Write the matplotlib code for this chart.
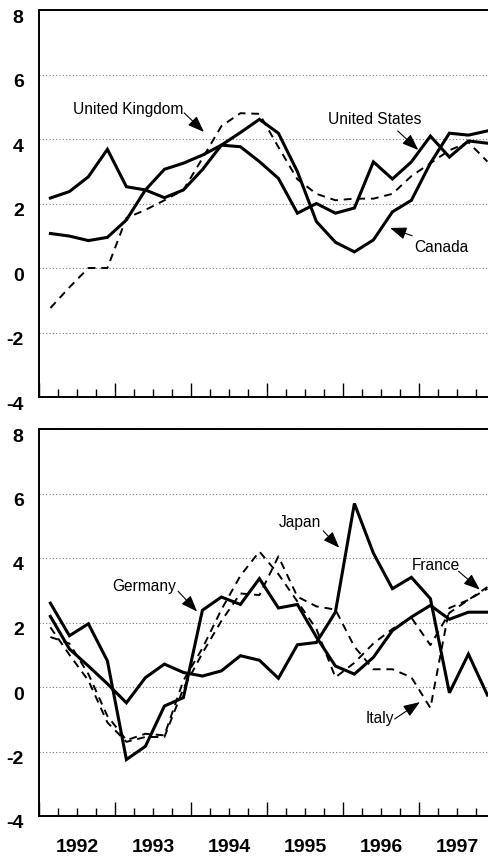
import numpy as np
import matplotlib.pyplot as plt
from matplotlib.ticker import MultipleLocator, NullFormatter
from matplotlib.transforms import ScaledTranslation

plt.rcParams['font.family'] = ['Liberation Sans', 'DejaVu Sans']
plt.rcParams['axes.unicode_minus'] = False

# real GDP growth, percent change from a year earlier, 1992Q1 - 1997Q4
quarter = np.arange(24)
t = 1992 + (quarter + 0.6) / 4
years = [1992, 1993, 1994, 1995, 1996, 1997]

united_states = [2.17, 2.37, 2.83, 3.68, 2.52, 2.42, 2.18, 2.42, 3.05, 3.81, 3.76, 3.3,
                 2.78, 1.7, 2.0, 1.7, 1.86, 3.29, 2.76, 3.29, 4.09, 3.44, 3.94, 3.87]
canada = [1.07, 0.99, 0.85, 0.95, 1.49, 2.42, 3.06, 3.25, 3.5, 3.81, 4.2, 4.61,
          4.18, 2.99, 1.44, 0.8, 0.5, 0.87, 1.74, 2.1, 3.25, 4.18, 4.12, 4.25]
united_kingdom = [-1.24, -0.6, 0.0, 0.0, 1.55, 1.8, 2.1, 2.42, 3.4, 4.4, 4.8, 4.78,
                  3.75, 2.75, 2.3, 2.1, 2.15, 2.15, 2.3, 2.85, 3.25, 3.65, 3.9, 3.3]

germany = [2.6, 1.59, 1.96, 0.81, -2.25, -1.84, -0.59, -0.33, 2.38, 2.79, 2.56, 3.36,
           2.45, 2.56, 1.55, 0.65, 0.4, 0.92, 1.75, 2.17, 2.53, 2.1, 2.32, 2.32]
japan = [2.19, 1.18, 0.65, 0.1, -0.49, 0.29, 0.71, 0.45, 0.34, 0.5, 0.97, 0.83,
         0.27, 1.31, 1.38, 2.32, 5.69, 4.15, 3.05, 3.4, 2.74, -0.18, 1.02, -0.25]
france = [1.55, 1.35, 0.4, -0.9, -1.65, -1.45, -1.5, 0.2, 1.2, 2.4, 3.45, 4.2,
          3.5, 2.65, 1.8, 0.3, 0.75, 1.35, 1.8, 2.15, 1.3, 2.3, 2.7, 3.1]
italy = [1.85, 1.0, 0.2, -1.1, -1.7, -1.55, -1.55, -0.05, 1.05, 2.05, 2.9, 2.85,
         4.05, 2.8, 2.5, 2.4, 1.25, 0.55, 0.55, 0.3, -0.65, 2.45, 2.7, 3.05]

fig = plt.figure(figsize=(4.88, 8.57), dpi=100)
ax1 = fig.add_axes([39 / 488, 1 - 397 / 857, 456 / 488, 387 / 857])
ax2 = fig.add_axes([39 / 488, 1 - 816 / 857, 456 / 488, 387 / 857])

label_shift = ScaledTranslation(0, -6 / 100, fig.dpi_scale_trans)


def style(ax):
    ax.set_xlim(1992, 1998)
    ax.set_ylim(-4, 8)
    ax.set_yticks(range(-4, 9, 2))
    ax.xaxis.set_major_locator(MultipleLocator(1))
    ax.xaxis.set_minor_locator(MultipleLocator(0.25))
    ax.xaxis.set_major_formatter(NullFormatter())
    ax.tick_params(axis='x', which='major', direction='in', length=10, width=1)
    ax.tick_params(axis='x', which='minor', direction='in', length=5.5, width=1)
    ax.tick_params(axis='y', length=0, pad=11)
    for lab in ax.get_yticklabels():
        lab.set_fontweight('bold')
        lab.set_fontsize(14)
        lab.set_transform(lab.get_transform() + label_shift)
    ax.spines['right'].set_visible(False)
    for side in ['left', 'top', 'bottom']:
        ax.spines[side].set_linewidth(1.4)
    ax.yaxis.grid(True, color='#777777', lw=0.8, ls=(0, (1, 2)))
    ax.set_axisbelow(True)


def label(ax, text, pos, tail, head):
    ax.text(pos[0], pos[1], text, ha='center', va='center', fontsize=11.2)
    ax.annotate('', xy=head, xytext=tail,
                arrowprops=dict(arrowstyle='-|>,head_length=1.0,head_width=0.38',
                                color='black', lw=0.8, shrinkA=0, shrinkB=0))


style(ax1)
style(ax2)

solid = dict(color='black', lw=2.2, solid_joinstyle='miter')
dashed = dict(color='black', lw=1.4, dashes=(4, 3))

ax1.plot(t, united_states, **solid)
ax1.plot(t, canada, **solid)
ax1.plot(t, united_kingdom, **dashed)

label(ax1, 'United Kingdom', (1993.18, 4.93), (1993.91, 4.81), (1994.17, 4.22))
label(ax1, 'United States', (1996.42, 4.59), (1996.72, 4.25), (1996.99, 3.66))
label(ax1, 'Canada', (1997.30, 0.65), (1996.91, 1.0), (1996.62, 1.24))

ax2.plot(t, germany, **solid)
ax2.plot(t, japan, **solid)
ax2.plot(t, france, **dashed)
ax2.plot(t, italy, **dashed)

label(ax2, 'Germany', (1993.39, 3.12), (1993.83, 2.97), (1994.08, 2.34))
label(ax2, 'Japan', (1995.43, 5.09), (1995.74, 4.84), (1995.95, 4.32))
label(ax2, 'France', (1997.22, 3.78), (1997.52, 3.59), (1997.80, 3.02))
label(ax2, 'Italy', (1996.49, -0.97), (1996.68, -0.99), (1997.01, -0.47))

for y in years:
    ax2.annotate(str(y), xy=(y + 0.5, 0), xycoords=('data', 'axes fraction'),
                 xytext=(0, -31), textcoords='offset pixels', ha='center', va='center',
                 fontsize=14, fontweight='bold')

plt.savefig('out.png', dpi=100)
